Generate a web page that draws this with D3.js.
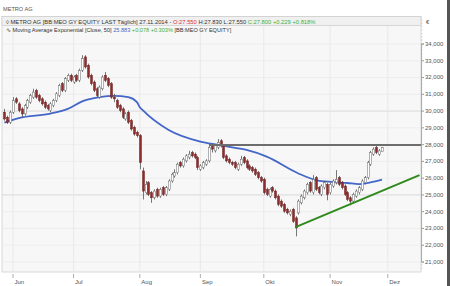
<!DOCTYPE html>
<html>
<head>
<meta charset="utf-8">
<script src="https://cdn.jsdelivr.net/npm/d3@7"></script>
<style>
body { margin: 0; background: #fff; }
svg { font-family: "Liberation Sans", Arial, sans-serif; }
.tick text { fill: #555; font-size: 6px; }
</style>
</head>
<body>
<svg id="chart" width="450" height="286"></svg>
<script>
// daily bars, 28.05.2014 - 27.11.2014 (trading days)
var opens = [29.9,29.6,29.3,29.9,30.7,30.4,30.1,29.8,30.2,30.5,30.8,31.2,30.9,30.7,30.5,30.3,30.0,30.3,30.6,30.9,
  31.6,31.2,31.8,32.1,31.7,32.1,31.8,32.4,33.2,32.7,32.1,31.7,31.3,30.8,31.3,32.1,31.9,31.6,30.8,30.6,
  30.3,30.1,29.5,29.9,29.4,29.0,28.7,28.5,26.4,25.1,25.7,25.1,24.8,25.3,24.9,25.4,25.0,25.3,25.8,26.1,
  26.3,26.9,26.7,27.0,27.2,27.5,27.4,27.2,26.5,26.6,26.8,27.0,27.9,27.6,27.8,28.2,27.9,27.3,27.1,26.9,
  26.9,26.5,26.8,27.2,27.0,26.7,26.6,26.5,26.3,26.0,25.9,25.3,24.9,25.4,25.2,24.9,24.6,24.4,24.1,23.8,
  24.1,23.6,23.9,24.5,24.8,25.1,25.7,25.1,26.0,25.4,25.0,25.4,25.6,25.1,25.5,25.7,26.0,25.7,25.5,25.1,
  24.8,24.6,24.9,25.1,25.3,25.7,26.0,26.8,27.4,27.8,27.4,27.55];
var highs = [30.1,29.7,30.0,30.8,30.8,30.5,30.2,30.4,30.7,31.0,31.3,31.3,31.0,30.8,30.6,30.4,30.5,30.7,31.1,31.6,
  31.7,32.0,32.2,32.2,32.1,32.2,32.5,33.3,33.3,32.8,32.2,31.8,31.4,31.5,32.1,32.3,32.0,31.7,31.0,30.7,
  30.4,30.2,29.9,30.0,29.5,29.1,28.8,28.6,26.6,25.8,25.8,25.2,25.3,25.4,25.4,25.5,25.5,25.9,26.3,26.5,
  26.9,27.0,27.2,27.4,27.6,27.6,27.5,27.3,26.8,27.0,27.1,27.9,28.0,28.0,28.3,28.3,28.0,27.4,27.2,27.0,
  27.0,26.9,27.3,27.3,27.1,26.8,26.7,26.6,26.4,26.1,26.0,25.4,25.4,25.5,25.3,25.0,24.7,24.5,24.2,24.1,
  24.2,23.7,24.7,25.0,25.3,25.7,25.8,26.15,26.1,25.5,25.6,25.8,25.7,25.7,25.9,26.45,26.1,25.8,25.6,25.2,
  24.9,25.1,25.3,25.5,25.9,26.1,27.0,27.6,27.8,27.9,27.7,27.83];
var lows = [29.4,29.2,29.2,29.8,30.4,29.9,29.6,29.7,30.1,30.4,30.7,30.7,30.5,30.3,30.1,30.0,29.9,30.2,30.5,30.8,
  31.1,31.1,31.7,31.7,31.6,31.7,31.7,32.3,32.5,31.9,31.5,31.1,30.8,30.7,31.2,31.7,31.4,30.7,30.5,30.1,
  29.9,29.5,29.4,29.2,28.8,28.5,28.4,26.5,24.7,25.0,24.9,24.5,24.7,24.8,24.8,24.9,24.9,25.2,25.7,26.0,
  26.2,26.6,26.6,26.9,27.1,27.2,27.1,26.45,26.4,26.5,26.7,26.9,27.5,27.5,27.7,27.8,27.1,26.9,26.8,26.7,
  26.5,26.4,26.7,26.8,26.5,26.4,26.3,26.1,25.9,25.7,25.0,24.9,24.8,25.1,24.7,24.3,24.2,23.9,23.8,23.7,
  23.3,22.5,23.8,24.4,24.7,25.0,25.1,25.0,25.2,25.0,24.9,25.3,24.65,25.0,25.4,25.6,25.5,25.3,24.9,24.6,
  24.35,24.5,24.8,25.0,25.2,25.6,25.9,26.7,27.3,27.4,27.3,27.55];
var closes = [29.5,29.3,29.9,30.6,30.5,30.0,29.8,30.3,30.6,30.9,31.1,30.8,30.6,30.4,30.2,30.1,30.4,30.6,31.0,31.5,
  31.2,31.9,32.1,31.8,32.0,31.8,32.4,33.1,32.6,32.0,31.6,31.2,30.9,31.4,32.0,31.8,31.5,30.8,30.7,30.2,
  30.0,29.6,29.8,29.3,28.9,28.6,28.5,26.9,25.2,25.6,25.0,24.8,25.2,24.9,25.3,25.0,25.4,25.8,26.2,26.3,
  26.8,26.7,27.1,27.3,27.4,27.3,27.2,26.6,26.7,26.9,27.0,27.8,27.7,27.9,28.1,27.9,27.2,27.0,26.9,26.8,
  26.6,26.8,27.1,26.9,26.6,26.5,26.4,26.2,26.0,25.8,25.1,25.0,25.3,25.2,24.8,24.4,24.3,24.0,23.9,24.0,
  23.4,23.0,24.6,24.9,25.2,25.6,25.2,25.9,25.3,25.1,25.5,25.7,25.0,25.6,25.8,25.9,25.6,25.4,25.0,24.7,
  24.6,25.0,25.2,25.4,25.8,26.0,26.9,27.5,27.7,27.5,27.6,27.8];

// EMA(50): bar index, value
var emaIdx = [0,5,16,22,27,33,38,43,46,47,48,57,68,74,80,84,91,102,108,114,119,123,127,131];
var emaVal = [29.28,29.55,29.82,30.10,30.55,30.80,30.88,30.80,30.50,30.20,30.02,28.84,28.15,27.96,27.78,27.65,27.25,26.25,25.86,25.74,25.68,25.62,25.72,25.88];

var monthNames = ['Jun','Jul','Aug','Sep','Okt','Nov','Dez'];
var yTicks = [21,22,23,24,25,26,27,28,29,30,31,32,33,34];

// drawn lines: horizontal resistance and rising trend (bar index, value)
var resistIdx = [71, 145];
var resistVal = [27.95, 27.95];
var trendIdx = [101, 144];
var trendVal = [23.05, 26.15];

var dates = d3.timeDay.range(new Date(2014, 4, 28), new Date(2014, 10, 28))
  .filter(function (d) { return d.getDay() != 0 && d.getDay() != 6; });

var bars = closes.map(function (c, i) {
  return { date: dates[i], o: opens[i], h: highs[i], l: lows[i], c: c };
});

var monthTicks = [];
dates.forEach(function (d, i) {
  if (i > 0 && d.getMonth() != dates[i - 1].getMonth()) monthTicks.push(i);
});
monthTicks.push(dates.length + 1); // 1 Dec

var plot = { left: 2, top: 16.5, right: 421, bottom: 272 };

var svg = d3.select('#chart');

var x = d3.scaleLinear().domain([0, 131]).range([4.35, 382]);
var y = d3.scaleLinear().domain([21, 34]).range([261.5, 43.5]);

svg.append('rect')
  .attr('x', plot.left).attr('y', plot.top)
  .attr('width', plot.right - plot.left).attr('height', plot.bottom - plot.top)
  .attr('fill', '#f7f7f7').attr('stroke', '#cfcfcf').attr('stroke-width', 0.8);

// grid
svg.append('g').selectAll('line').data(yTicks).enter().append('line')
  .attr('x1', plot.left).attr('x2', plot.right)
  .attr('y1', function (d) { return y(d) + 0.5; }).attr('y2', function (d) { return y(d) + 0.5; })
  .attr('stroke', function (d) { return d % 5 == 0 ? '#cfcfcf' : '#ebebeb'; })
  .attr('stroke-width', 0.8);

svg.append('g').selectAll('line').data(monthTicks).enter().append('line')
  .attr('x1', function (d) { return x(d); }).attr('x2', function (d) { return x(d); })
  .attr('y1', plot.top).attr('y2', plot.bottom)
  .attr('stroke', '#e6e6e6').attr('stroke-width', 0.8);

// right axis
var yAxis = d3.axisRight(y)
  .tickValues(yTicks)
  .tickSize(3)
  .tickFormat(function (d) { return d3.format(',.3f')(d).replace('.', ','); });

var ya = svg.append('g')
  .attr('transform', 'translate(' + plot.right + ',0)')
  .call(yAxis);
ya.select('.domain').attr('stroke', '#999').attr('stroke-width', 0.8);
ya.selectAll('.tick line').attr('stroke', '#999');
ya.selectAll('.tick text').attr('x', 4);

var minor = d3.range(20.6, 35.6, 0.2);
svg.append('g').selectAll('line').data(minor).enter().append('line')
  .attr('x1', plot.right).attr('x2', plot.right + 1.5)
  .attr('y1', function (d) { return y(d); }).attr('y2', function (d) { return y(d); })
  .attr('stroke', '#bbb').attr('stroke-width', 0.6);

svg.append('text')
  .attr('x', 426).attr('y', 24)
  .attr('font-size', 6).attr('fill', '#555')
  .text('€');

// bottom axis
var xa = svg.append('g').attr('transform', 'translate(0,' + plot.bottom + ')');
xa.selectAll('line').data(monthTicks).enter().append('line')
  .attr('x1', function (d) { return x(d); }).attr('x2', function (d) { return x(d); })
  .attr('y1', 2).attr('y2', 6)
  .attr('stroke', '#999').attr('stroke-width', 0.8);
xa.selectAll('text').data(monthTicks).enter().append('text')
  .attr('x', function (d) { return x(d) + 1.5; })
  .attr('y', 12)
  .attr('font-size', 6).attr('fill', '#555')
  .text(function (d, i) { return monthNames[i]; });

// EMA
var emaData = emaIdx.map(function (d, i) { return [d, emaVal[i]]; });
svg.append('path')
  .datum(emaData)
  .attr('fill', 'none')
  .attr('stroke', '#4466c8')
  .attr('stroke-width', 1.8)
  .attr('d', d3.line()
    .x(function (d) { return x(d[0]); })
    .y(function (d) { return y(d[1]); })
    .curve(d3.curveMonotoneX));

// candles
var bw = 2;
var candles = svg.append('g').selectAll('g').data(bars).enter().append('g');
candles.append('line')
  .attr('x1', function (d, i) { return Math.round(x(i)) + 0.5; })
  .attr('x2', function (d, i) { return Math.round(x(i)) + 0.5; })
  .attr('y1', function (d) { return y(d.h); })
  .attr('y2', function (d) { return y(d.l); })
  .attr('stroke', '#555').attr('stroke-width', 0.8);
candles.append('rect')
  .attr('x', function (d, i) { return Math.round(x(i)) + 0.5 - bw / 2; })
  .attr('y', function (d) { return y(Math.max(d.o, d.c)); })
  .attr('width', bw)
  .attr('height', function (d) { return Math.max(0.8, Math.abs(y(d.o) - y(d.c))); })
  .attr('fill', function (d) { return d.c >= d.o ? '#ffffff' : '#8e2b2b'; })
  .attr('stroke', function (d) { return d.c >= d.o ? '#666' : '#6e2020'; })
  .attr('stroke-width', 0.5);

// resistance + trend lines
svg.append('line')
  .attr('x1', x(resistIdx[0])).attr('x2', Math.min(x(resistIdx[1]), plot.right))
  .attr('y1', y(resistVal[0])).attr('y2', y(resistVal[1]))
  .attr('stroke', '#6d6d6d').attr('stroke-width', 2);

svg.append('line')
  .attr('x1', x(trendIdx[0])).attr('x2', x(trendIdx[1]))
  .attr('y1', y(trendVal[0])).attr('y2', y(trendVal[1]))
  .attr('stroke', '#2f8a1c').attr('stroke-width', 2);

// legend
svg.append('rect')
  .attr('x', plot.left).attr('y', plot.top)
  .attr('width', plot.right - plot.left).attr('height', 9)
  .attr('fill', '#f0f0f0').attr('stroke', '#cfcfcf').attr('stroke-width', 0.8);

var l1 = svg.append('text').attr('x', 6).attr('y', 23.5).attr('font-size', 5.8).attr('fill', '#333');
l1.append('tspan').text('◊ METRO AG [BB:MEO GY EQUITY LAST Täglich] 27.11.2014 - ');
l1.append('tspan').attr('fill', '#e03030').text('O:27.550');
l1.append('tspan').text(' H:27.830 L:27.550 ');
l1.append('tspan').attr('fill', '#3cb043').text('C:27.800 +0.229 +0.818%');

var l2 = svg.append('text').attr('x', 6).attr('y', 32).attr('font-size', 5.6).attr('fill', '#333');
l2.append('tspan').text('∿ Moving Average Exponential [Close, 50] ');
l2.append('tspan').attr('fill', '#4466c8').text('25.883');
l2.append('tspan').attr('fill', '#3cb043').text(' +0.078 +0.303%');
l2.append('tspan').text(' [BB:MEO GY EQUITY]');

svg.append('text')
  .attr('x', 3).attr('y', 11)
  .attr('font-size', 5.6).attr('fill', '#555')
  .text('METRO AG');

// right frame strip
svg.append('rect').attr('x', 447).attr('y', 0).attr('width', 3).attr('height', 286).attr('fill', '#555');
</script>
</body>
</html>
